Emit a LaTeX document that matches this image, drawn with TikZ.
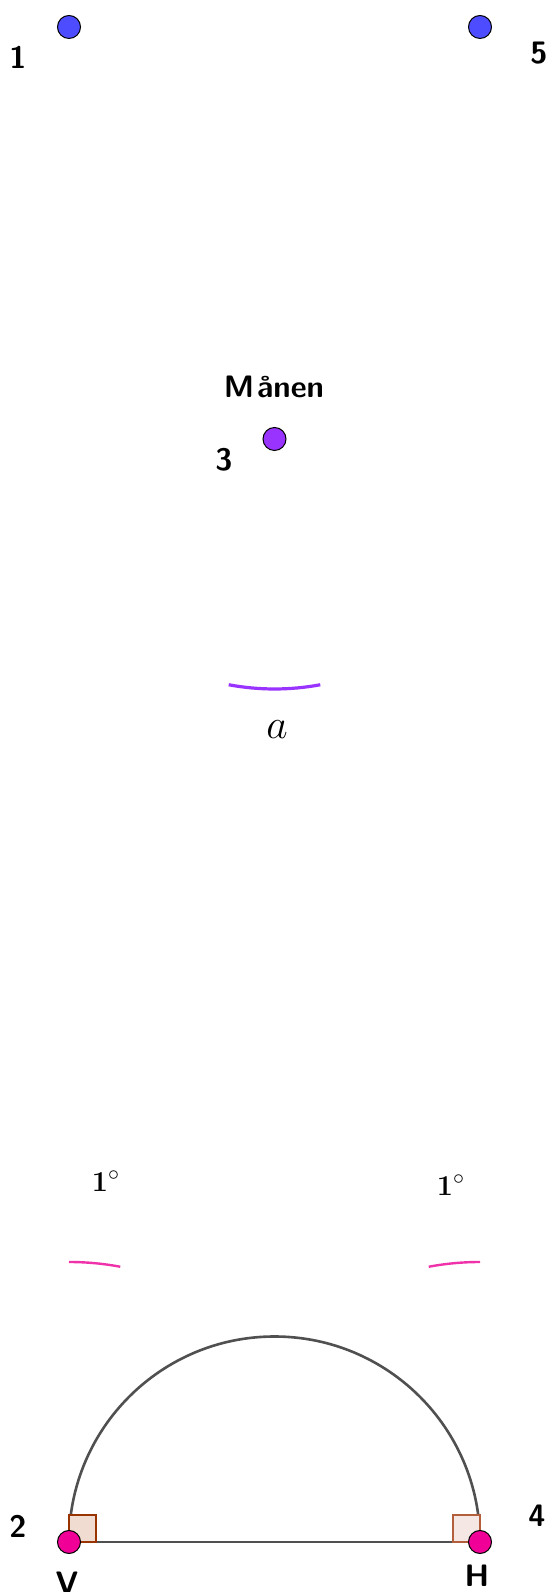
\documentclass[tikz,border=0pt]{standalone}
\usepackage{tikz}
\usetikzlibrary{angles, backgrounds}

\definecolor{ptblue}{RGB}{77,77,255}
\definecolor{moonpurple}{RGB}{153,51,255}
\definecolor{ptpink}{RGB}{240,0,150}
\definecolor{arcpink}{RGB}{240,50,170}
\definecolor{linegray}{RGB}{80,80,80}
\definecolor{sqdark}{RGB}{153,51,0}
\definecolor{sqdarkfill}{RGB}{240,220,208}
\definecolor{sqlight}{RGB}{180,95,60}
\definecolor{sqlightfill}{RGB}{245,232,228}

\begin{document}
\begin{tikzpicture}[
    x=0.5pt, y=0.5pt,
    pt/.style={circle, draw=black, line width=0.5pt, inner sep=0pt, minimum size=11.5pt},
    lbl/.style={font=\fontsize{15.5}{18}\selectfont\sffamily\bfseries, inner sep=0pt},
    deg/.style={font=\fontsize{15.5}{18}\selectfont\bfseries, inner sep=0pt},
    ang/.style={draw=arcpink, line width=1.2pt, angle radius=140pt},
    rsq/.style={line width=1pt}
]
\useasboundingbox (0,0) rectangle (551,1592);

% points
\node[pt, fill=ptblue] (P1) at (69,1565) {};
\node[pt, fill=ptblue] (P5) at (480,1565) {};
\node[pt, fill=moonpurple] (M) at (274.5,1153) {};
\node[pt, fill=ptpink] (V) at (69,50) {};
\node[pt, fill=ptpink] (H) at (480,50) {};

% labels
\node[lbl] (n1) at (18,1535) {1};
\node[lbl] (n5) at (539,1539) {5};
\node[lbl] (moon) at (274,1205) {M\kern1.5ptånen};
\node[lbl] (n3) at (224,1132) {3};
\node[lbl] (n2) at (18,66) {2};
\node[lbl] (n4) at (537,76) {4};
\node[lbl] (vlbl) at (67,9) {V};
\node[lbl] (hlbl) at (477,16) {H};
\node[font=\fontsize{22}{24}\selectfont] (alab) at (277,862) {$a$};
\node[deg] (dl) at (106,411) {$\mathbf{1}^\circ$};
\node[deg] (dr) at (451,407) {$\mathbf{1}^\circ$};

\begin{scope}[on background layer]
\draw[linegray, line width=1.3pt] (V.center) -- (H.center);
\draw[linegray, line width=1.3pt] (V.center) arc[start angle=180, end angle=0, radius=205.5];
\draw[rsq, draw=sqdark, fill=sqdarkfill] (V.center) rectangle ++(27,27);
\draw[rsq, draw=sqlight, fill=sqlightfill] (H.center) rectangle ++(-27,27);
\end{scope}

% angle arcs
\pic[draw=moonpurple, line width=1.6pt, angle radius=125pt] {angle = V--M--H};
\pic[ang] {angle = M--V--P1};
\pic[ang] {angle = P5--H--M};

\end{tikzpicture}
\end{document}
